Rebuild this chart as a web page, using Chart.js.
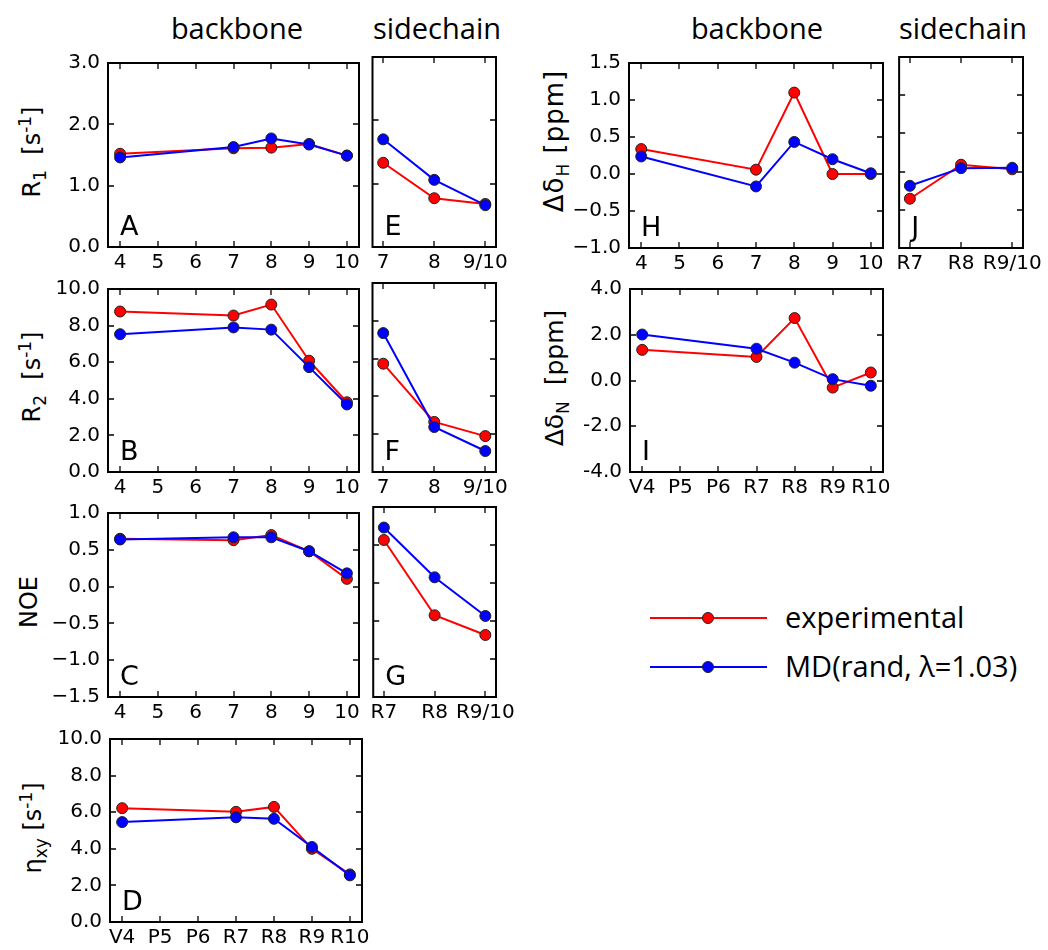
<!DOCTYPE html>
<html>
<head>
<meta charset="utf-8">
<script src="https://cdn.jsdelivr.net/npm/chart.js@4.4.1/dist/chart.umd.min.js"></script>
<style>
  body { margin: 0; background: #fff; font-family: 'DejaVu Sans', sans-serif; }
  #page { position: relative; width: 1048px; height: 950px; overflow: hidden; }
  canvas { position: absolute; }
  .head { position: absolute; width: 200px; text-align: center; font-family: 'Open Sans', sans-serif; font-size: 29px; line-height: 28px; }
  .ylab { position: absolute; white-space: nowrap; font-size: 24px; line-height: 24px; transform: translate(-50%, -50%) rotate(-90deg); }
  .ylab sub, .ylab sup { font-size: 17px; line-height: 0; }
  .leg { position: absolute; left: 650px; width: 400px; height: 30px; }
  .leg .ln { position: absolute; left: 0; top: 14px; width: 117px; height: 2px; }
  .leg .pt { position: absolute; left: 52px; top: 9px; width: 10px; height: 10px; border-radius: 50%; border: 1px solid #222; }
  .leg .tx { position: absolute; left: 135px; top: -4px; font-family: 'Open Sans', sans-serif; font-size: 29px; line-height: 36px; }
</style>
</head>
<body>
<div id="page">
  <div class="head" style="left:137px;top:14px">backbone</div>
  <div class="head" style="left:337px;top:14px">sidechain</div>
  <div class="head" style="left:657px;top:14px">backbone</div>
  <div class="head" style="left:863px;top:14px">sidechain</div>

  <div class="ylab" style="left:32px;top:152px">R<sub>1</sub>&nbsp; [s<sup>-1</sup>]</div>
  <div class="ylab" style="left:32px;top:377px">R<sub>2</sub>&nbsp; [s<sup>-1</sup>]</div>
  <div class="ylab" style="left:29px;top:602px">NOE</div>
  <div class="ylab" style="left:33px;top:828px">&eta;<sub>xy</sub> [s<sup>-1</sup>]</div>
  <div class="ylab" style="left:554px;top:141px;font-size:26px;letter-spacing:1px">&Delta;&delta;<sub>H</sub> [ppm]</div>
  <div class="ylab" style="left:555px;top:378px;font-size:25px">&Delta;&delta;<sub>N</sub>&nbsp; [ppm]</div>

  <div class="leg" style="top:603px">
    <div class="ln" style="background:#ff0000"></div>
    <div class="pt" style="background:#ff0000"></div>
    <div class="tx">experimental</div>
  </div>
  <div class="leg" style="top:652px">
    <div class="ln" style="background:#0000ff"></div>
    <div class="pt" style="background:#0000ff"></div>
    <div class="tx">MD(rand, &lambda;=1.03)</div>
  </div>
</div>
<script>
// residues and tick labels
const backboneRes = [4, 7, 8, 9, 10];
const sideIdx = [0, 1, 2];
const resTicks = [4, 5, 6, 7, 8, 9, 10];
const numLabels = ['4', '5', '6', '7', '8', '9', '10'];
const resLabels = ['V4', 'P5', 'P6', 'R7', 'R8', 'R9', 'R10'];
const sideNumLabels = ['7', '8', '9/10'];
const sideResLabels = ['R7', 'R8', 'R9/10'];

// y ticks
const r1YTicks = [0, 1, 2, 3];
const r1YLabels = ['0.0', '1.0', '2.0', '3.0'];
const r2YTicks = [0, 2, 4, 6, 8, 10];
const r2YLabels = ['0.0', '2.0', '4.0', '6.0', '8.0', '10.0'];
const noeYTicks = [-1.5, -1, -0.5, 0, 0.5, 1];
const noeYLabels = ['\u22121.5', '\u22121.0', '\u22120.5', '0.0', '0.5', '1.0'];
const etaYTicks = [0, 2, 4, 6, 8, 10];
const etaYLabels = ['0.0', '2.0', '4.0', '6.0', '8.0', '10.0'];
const dHYTicks = [-1, -0.5, 0, 0.5, 1, 1.5];
const dHYLabels = ['\u22121.0', '\u22120.5', '0.0', '0.5', '1.0', '1.5'];
const dNYTicks = [-4, -2, 0, 2, 4];
const dNYLabels = ['-4.0', '-2.0', '0.0', '2.0', '4.0'];

// experimental vs MD values
const r1Exp = [1.52, 1.61, 1.62, 1.68, 1.49];
const r1MD = [1.46, 1.63, 1.77, 1.67, 1.49];
const r1SideExp = [1.33, 0.77, 0.68];
const r1SideMD = [1.70, 1.06, 0.66];
const r2Exp = [8.77, 8.55, 9.15, 6.08, 3.81];
const r2MD = [7.53, 7.90, 7.78, 5.73, 3.69];
const r2SideExp = [5.73, 2.65, 1.90];
const r2SideMD = [7.35, 2.38, 1.11];
const noeExp = [0.65, 0.63, 0.70, 0.48, 0.105];
const noeMD = [0.64, 0.67, 0.67, 0.48, 0.18];
const noeSideExp = [0.566, -0.425, -0.684];
const noeSideMD = [0.73, 0.075, -0.434];
const etaExp = [6.22, 6.02, 6.29, 4.0, 2.6];
const etaMD = [5.46, 5.72, 5.64, 4.1, 2.55];
const dHExp = [0.337, 0.058, 1.10, 0.0, 0.0];
const dHMD = [0.237, -0.168, 0.433, 0.20, 0.01];
const dHSideExp = [-0.355, 0.09, 0.03];
const dHSideMD = [-0.186, 0.045, 0.05];
const dNExp = [1.34, 1.03, 2.73, -0.31, 0.35];
const dNMD = [2.01, 1.39, 0.78, 0.06, -0.23];

const bb = { xData: backboneRes, xMin: 3.68, xMax: 10.32, xTicks: resTicks };
const sc = { xData: sideIdx, xMin: -0.21, xMax: 2.21, xTicks: sideIdx };

const panels = [
  Object.assign({ letter: 'A', box: [108, 57, 359, 247], xLabels: numLabels, yMin: 0, yMax: 3, yTicks: r1YTicks, yLabels: r1YLabels, exp: r1Exp, md: r1MD }, bb),
  Object.assign({ letter: 'E', box: [370, 57, 496, 247], xLabels: sideNumLabels, yMin: 0, yMax: 3, yTicks: r1YTicks, yLabels: null, exp: r1SideExp, md: r1SideMD }, sc),
  Object.assign({ letter: 'B', box: [108, 283, 359, 472], xLabels: numLabels, yMin: 0, yMax: 10, yTicks: r2YTicks, yLabels: r2YLabels, exp: r2Exp, md: r2MD }, bb),
  Object.assign({ letter: 'F', box: [370, 283, 496, 472], xLabels: sideNumLabels, yMin: 0, yMax: 10, yTicks: r2YTicks, yLabels: null, exp: r2SideExp, md: r2SideMD }, sc),
  Object.assign({ letter: 'C', box: [108, 507, 359, 697], xLabels: numLabels, yMin: -1.5, yMax: 1, yTicks: noeYTicks, yLabels: noeYLabels, exp: noeExp, md: noeMD }, bb),
  Object.assign({ letter: 'G', box: [370, 507, 496, 697], xLabels: sideResLabels, yMin: -1.5, yMax: 1, yTicks: noeYTicks, yLabels: null, exp: noeSideExp, md: noeSideMD }, sc),
  Object.assign({ letter: 'D', box: [110, 733, 362, 922], xLabels: resLabels, yMin: 0, yMax: 10, yTicks: etaYTicks, yLabels: etaYLabels, exp: etaExp, md: etaMD }, bb),
  Object.assign({ letter: 'H', box: [629, 57, 883, 248], xLabels: numLabels, yMin: -1, yMax: 1.5, yTicks: dHYTicks, yLabels: dHYLabels, exp: dHExp, md: dHMD }, bb),
  Object.assign({ letter: 'J', box: [896, 57, 1023, 248], xLabels: sideResLabels, yMin: -1, yMax: 1.5, yTicks: dHYTicks, yLabels: null, exp: dHSideExp, md: dHSideMD }, sc),
  Object.assign({ letter: 'I', box: [630, 283, 883, 472], xLabels: resLabels, yMin: -4, yMax: 4, yTicks: dNYTicks, yLabels: dNYLabels, exp: dNExp, md: dNMD }, bb)
];

// matplotlib-like frame with inward ticks on all sides, plus the panel letter
const frameTicks = {
  id: 'frameTicks',
  afterDraw(chart, args, opts) {
    const { ctx, chartArea: a } = chart;
    const x = chart.scales.x, y = chart.scales.y;
    ctx.save();
    ctx.strokeStyle = '#000';
    ctx.lineWidth = 1.3;
    ctx.beginPath();
    x.ticks.forEach(t => {
      const px = Math.round(x.getPixelForValue(t.value));
      ctx.moveTo(px, a.bottom); ctx.lineTo(px, a.bottom - 6);
      ctx.moveTo(px, a.top); ctx.lineTo(px, a.top + 6);
    });
    y.ticks.forEach(t => {
      const py = Math.round(y.getPixelForValue(t.value));
      ctx.moveTo(a.left, py); ctx.lineTo(a.left + 6, py);
      ctx.moveTo(a.right, py); ctx.lineTo(a.right - 6, py);
    });
    ctx.stroke();
    ctx.lineWidth = 2;
    ctx.strokeRect(a.left, a.top, a.right - a.left, a.bottom - a.top);
    ctx.fillStyle = '#000';
    ctx.font = '27px "DejaVu Sans"';
    ctx.textBaseline = 'alphabetic';
    ctx.fillText(opts.letter, a.left + 12, a.bottom - 12);
    ctx.restore();
  }
};

function series(xs, ys, color) {
  return {
    data: xs.map((x, i) => ({ x: x, y: ys[i] })),
    borderColor: color,
    backgroundColor: color,
    borderWidth: 2,
    pointRadius: 5.5,
    pointBackgroundColor: color,
    pointBorderColor: '#222',
    pointBorderWidth: 1,
    tension: 0,
    clip: false
  };
}

const tickFont = { family: 'DejaVu Sans', size: 20 };
const page = document.getElementById('page');

panels.forEach(p => {
  const [l, t, r, b] = p.box;
  const padL = p.yLabels ? 80 : 4, padT = 14, padR = 28, padB = 36;
  const cv = document.createElement('canvas');
  cv.width = r - l + padL + padR;
  cv.height = b - t + padT + padB;
  cv.style.left = (l - padL) + 'px';
  cv.style.top = (t - padT) + 'px';
  page.appendChild(cv);

  new Chart(cv, {
    type: 'line',
    data: {
      // MD drawn on top of experimental
      datasets: [series(p.xData, p.md, '#0000ff'), series(p.xData, p.exp, '#ff0000')]
    },
    options: {
      responsive: false,
      animation: false,
      events: [],
      layout: { padding: { left: 0, top: padT, right: padR, bottom: 0 } },
      plugins: { legend: { display: false }, tooltip: { enabled: false }, frameTicks: { letter: p.letter } },
      scales: {
        x: {
          type: 'linear', min: p.xMin, max: p.xMax,
          afterBuildTicks: s => { s.ticks = p.xTicks.map(v => ({ value: v })); },
          afterFit: s => { s.height = padB; },
          grid: { display: false, drawTicks: false },
          border: { display: false },
          ticks: { autoSkip: false, maxRotation: 0, padding: 4, color: '#000', font: tickFont,
                   callback: (v, i) => p.xLabels[i] }
        },
        y: {
          type: 'linear', min: p.yMin, max: p.yMax,
          afterBuildTicks: s => { s.ticks = p.yTicks.map(v => ({ value: v })); },
          afterFit: s => { s.width = padL; },
          grid: { display: false, drawTicks: false },
          border: { display: false },
          ticks: { display: !!p.yLabels, autoSkip: false, padding: 8, color: '#000', font: tickFont,
                   callback: (v, i) => p.yLabels ? p.yLabels[i] : '' }
        }
      }
    },
    plugins: [frameTicks]
  });
});
</script>
</body>
</html>
